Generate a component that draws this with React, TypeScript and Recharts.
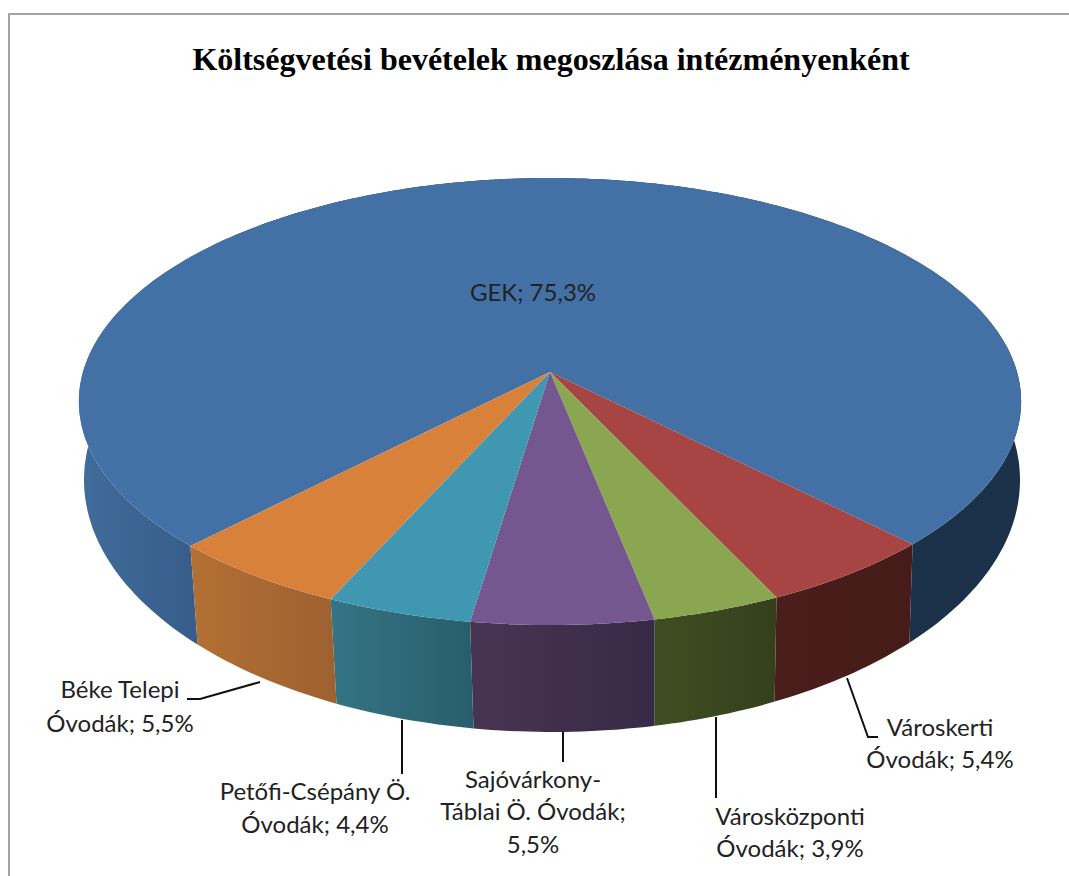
import { PieChart, Pie, Cell } from 'recharts'

const categories = [
  'GEK',
  'Városkerti Óvodák',
  'Városközponti Óvodák',
  'Sajóvárkony-Táblai Ö. Óvodák',
  'Petőfi-Csépány Ö. Óvodák',
  'Béke Telepi Óvodák',
]
const shares = [75.3, 5.4, 3.9, 5.5, 4.4, 5.5]
const labelTexts = [
  ['GEK; 75,3%'],
  ['Városkerti', 'Óvodák; 5,4%'],
  ['Városközponti', 'Óvodák; 3,9%'],
  ['Sajóvárkony-', 'Táblai Ö. Óvodák;', '5,5%'],
  ['Petőfi-Csépány Ö.', 'Óvodák; 4,4%'],
  ['Béke Telepi', 'Óvodák; 5,5%'],
]
const title = 'Költségvetési bevételek megoszlása intézményenként'

const topColors = ['#4471a5', '#a64543', '#8aa650', '#73578e', '#4097b1', '#d7813b']
const wallStops: [number, string][][] = [
  [[0, '#416c9b'], [0.125, '#375c8a'], [0.125, '#1b3049'], [1, '#1b3049']],
  [[0, '#4a1e1a'], [1, '#451c19']],
  [[0, '#3f4e22'], [1, '#34401c']],
  [[0, '#473453'], [1, '#372a47']],
  [[0, '#347485'], [1, '#285e6c']],
  [[0, '#b37034'], [1, '#9d6030']],
]

// where each label goes, in page pixels
const labelLayout = [
  { x: 533, y: [301], leader: '' },
  { x: 940, y: [736, 768], leader: 'M847 678 L868 737 L878 737' },
  { x: 790, y: [825, 857], leader: 'M716 717 L716 798' },
  { x: 533, y: [788, 820, 853], leader: 'M563 732 L563 762' },
  { x: 315, y: [800, 833], leader: 'M402 720 L402 774' },
  { x: 120, y: [698, 732], leader: 'M187 699 L200 699 L260 682' },
]

const tableData = categories.map((name, i) => ({ name, value: shares[i] }))

const CX = 550
const CY = 372
const RADIUS = 467

// perspective view of the disc, u to the right and v towards the viewer
function topPoint(deg: number) {
  const a = (deg * Math.PI) / 180
  const u = Math.cos(a)
  const v = -Math.sin(a)
  const w = 1 - 0.132 * v
  return [CX + (RADIUS * u) / w, CY + (219.6 * v) / w]
}

function bottomPoint(deg: number) {
  const a = (deg * Math.PI) / 180
  const u = Math.cos(a)
  const v = -Math.sin(a)
  const w = 1 - 0.12 * v
  return [CX + 2 + (464.6 * u) / w, 449.7 + (248.4 * v) / w]
}

function arc(from: number, to: number, project: (deg: number) => number[]) {
  const steps = Math.max(2, Math.ceil(Math.abs(to - from)))
  const pts: string[] = []
  for (let i = 0; i <= steps; i++) {
    const [x, y] = project(from + ((to - from) * i) / steps)
    pts.push(`${x.toFixed(1)} ${y.toFixed(1)}`)
  }
  return pts
}

function Slice(props: any) {
  const name = props.payload?.name ?? props.name
  const idx = categories.indexOf(name)
  const { startAngle, endAngle } = props
  const top = arc(startAngle, endAngle, topPoint)
  const bottom = arc(endAngle, startAngle, bottomPoint)
  const gradId = `wall-${idx}`
  return (
    <g>
      <defs>
        <linearGradient id={gradId} x1="0" y1="0" x2="1" y2="0">
          {wallStops[idx].map(([offset, color], i) => (
            <stop key={i} offset={offset} stopColor={color} />
          ))}
        </linearGradient>
      </defs>
      <path d={`M${top.join(' L')} L${bottom.join(' L')} Z`} fill={`url(#${gradId})`} />
      <path d={`M${CX} ${CY} L${top.join(' L')} Z`} fill={topColors[idx]} />
    </g>
  )
}

function renderLabel(props: any) {
  const name = props.payload?.name ?? props.name
  const idx = categories.indexOf(name)
  const box = labelLayout[idx]
  return (
    <g>
      {box.leader && <path d={box.leader} fill="none" stroke="#111" strokeWidth={2} />}
      {labelTexts[idx].map((line, i) => (
        <text
          key={line}
          x={box.x}
          y={box.y[i]}
          textAnchor="middle"
          fontFamily="Lato"
          fontSize={24}
          fill="#222"
        >
          {line}
        </text>
      ))}
    </g>
  )
}

export default function App() {
  return (
    <div style={{ position: 'absolute', left: 0, top: 0, width: 1069, height: 876, overflow: 'hidden', background: '#fff' }}>
      <div
        style={{
          position: 'absolute',
          left: 8,
          top: 13,
          right: 0,
          bottom: 0,
          borderTop: '2px solid #a3a3a3',
          borderLeft: '2px solid #a3a3a3',
        }}
      />
      <div
        style={{
          position: 'absolute',
          left: 0,
          width: 1102,
          top: 41,
          textAlign: 'center',
          fontFamily: 'Liberation Serif',
          fontWeight: 'bold',
          fontSize: 32,
          lineHeight: '36px',
          color: '#000',
        }}
      >
        {title}
      </div>
      <div style={{ position: 'absolute', left: 0, top: 0 }}>
        <PieChart width={1069} height={876} margin={{ top: 0, right: 0, bottom: 0, left: 0 }}>
          <Pie
            data={tableData}
            dataKey="value"
            nameKey="name"
            cx={CX}
            cy={CY}
            innerRadius={0}
            outerRadius={RADIUS}
            startAngle={225.8}
            endAngle={-134.2}
            stroke="none"
            isAnimationActive={false}
            shape={Slice}
            label={renderLabel}
            labelLine={false}
          >
            {tableData.map((d, i) => (
              <Cell key={d.name} fill={topColors[i]} />
            ))}
          </Pie>
        </PieChart>
      </div>
    </div>
  )
}
